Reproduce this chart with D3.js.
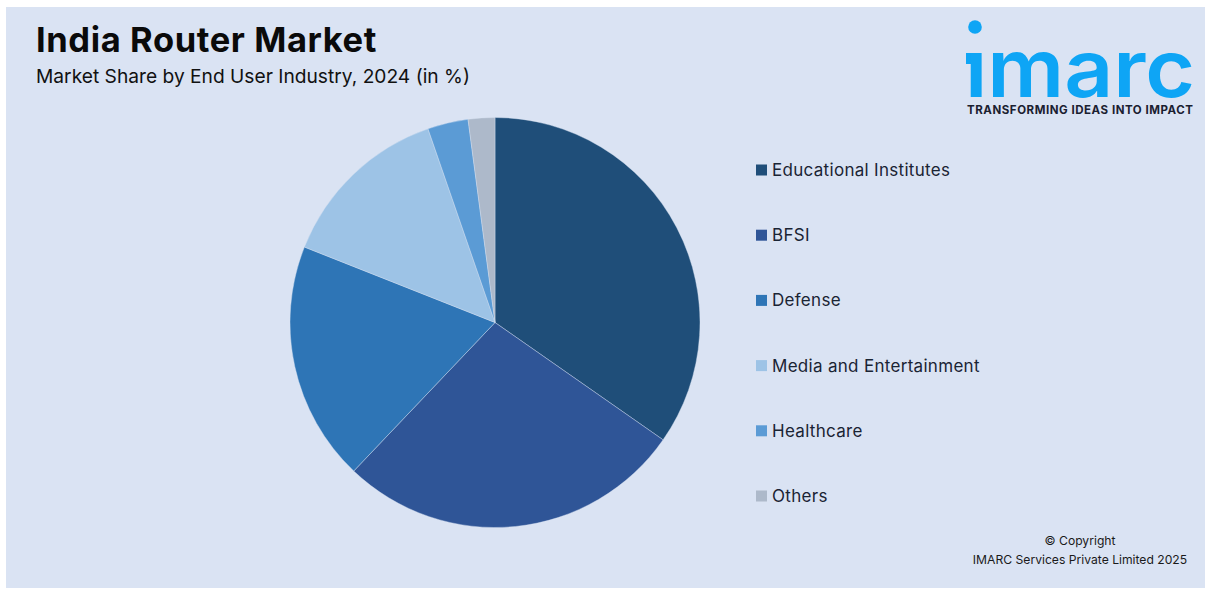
<!DOCTYPE html>
<html><head><meta charset="utf-8">
<script src="https://cdn.jsdelivr.net/npm/d3@7"></script>
<style>html,body{margin:0;padding:0;background:#fff}svg{display:block}text{font-family:Inter,"Noto Sans",sans-serif}</style>
</head><body><svg id="c" width="1212" height="595"></svg>
<script>
const categories=["Educational Institutes","BFSI","Defense","Media and Entertainment","Healthcare","Others"];
const shares=[34.7,27.4,18.9,13.7,3.2,2.1];
const colors=["#1f4e79","#2f5597","#2e75b6","#9dc3e6","#5b9bd5","#adb9ca"];
const titleText="India Router Market";
const subtitleText="Market Share by End User Industry, 2024 (in %)";
const copyrightLines=["© Copyright","IMARC Services Private Limited 2025"];
const svg=d3.select("#c");
svg.append("rect").attr("x",6).attr("y",7).attr("width",1199).attr("height",581).attr("fill","#dae3f3");
svg.append("text").attr("x",36).attr("y",52).attr("font-size",34.5).attr("font-weight",700).attr("letter-spacing",0.6).attr("fill","#0a0a0a").text(titleText);
svg.append("text").attr("x",36).attr("y",83).attr("font-size",19.2).attr("fill","#111").text(subtitleText);
const pie=d3.pie().sort(null).value(d=>d);
const arc=d3.arc().innerRadius(0).outerRadius(205);
svg.append("g").attr("transform","translate(495,322.5)").selectAll("path").data(pie(shares)).join("path")
 .attr("d",arc).attr("fill",(d,i)=>colors[i]).attr("stroke","#dae3f3").attr("stroke-width",0.4);
const y=d3.scalePoint().domain(categories).range([170,496]);
const lg=svg.append("g").selectAll("g").data(categories).join("g").attr("transform",d=>`translate(756,${y(d)})`);
lg.append("rect").attr("x",0).attr("y",-5.5).attr("width",11).attr("height",11).attr("fill",(d,i)=>colors[i]);
lg.append("text").attr("x",16).attr("y",6).attr("font-size",17).attr("letter-spacing",0.3).attr("fill","#1a2433").text(d=>d);
svg.append("g").selectAll("text").data(copyrightLines).join("text").attr("x",1080).attr("y",(d,i)=>545+i*18.5)
 .attr("text-anchor","middle").attr("font-size",12.15).attr("fill","#1a1a1a").text(d=>d);
// logo
const logo=svg.append("g");
const blue="#0ea5f5";
logo.append("circle").attr("cx",975).attr("cy",27).attr("r",6.8).attr("fill",blue);
logo.append("rect").attr("x",966).attr("y",53).attr("width",10).attr("height",11).attr("fill",blue);
logo.append("text").attr("x",965).attr("y",97).attr("font-size",80).attr("font-weight",600).attr("fill",blue).attr("textLength",230).attr("lengthAdjust","spacingAndGlyphs").text("ımarc");
logo.append("text").attr("x",967).attr("y",114).attr("font-size",11.5).attr("font-weight",700).attr("fill","#1a2030").attr("textLength",226).text("TRANSFORMING IDEAS INTO IMPACT");
</script></body></html>
